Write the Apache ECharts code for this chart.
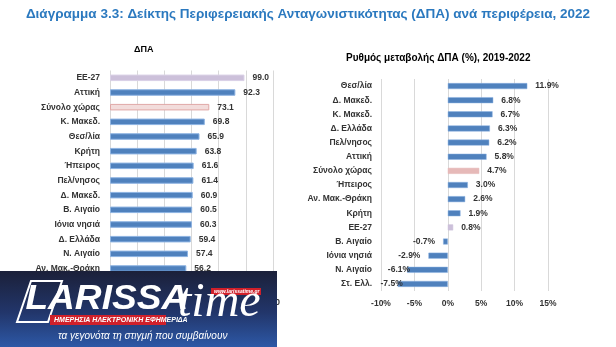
<!DOCTYPE html>
<html>
<head>
<meta charset="utf-8">
<script src="https://cdn.jsdelivr.net/npm/echarts@6/dist/echarts.min.js"></script>
<style>
html,body{margin:0;padding:0;background:#fff;}
#chart{width:616px;height:347px;}
</style>
</head>
<body>
<div id="chart"></div>
<script>
// ---- Data ----
const leftCategories = ['EE-27','Αττική','Σύνολο χώρας','Κ. Μακεδ.','Θεσ/λία','Κρήτη','Ήπειρος','Πελ/νησος','Δ. Μακεδ.','Β. Αιγαίο','Ιόνια νησιά','Δ. Ελλάδα','Ν. Αιγαίο','Αν. Μακ.-Θράκη','Στ. Ελλ.'];
const leftValues = [99.0, 92.3, 73.1, 69.8, 65.9, 63.8, 61.6, 61.4, 60.9, 60.5, 60.3, 59.4, 57.4, 56.2, 55.0];
const leftTicks = [0, 20, 40, 60, 80, 100, 120];

const rightCategories = ['Θεσ/λία','Δ. Μακεδ.','Κ. Μακεδ.','Δ. Ελλάδα','Πελ/νησος','Αττική','Σύνολο χώρας','Ήπειρος','Αν. Μακ.-Θράκη','Κρήτη','EE-27','Β. Αιγαίο','Ιόνια νησιά','Ν. Αιγαίο','Στ. Ελλ.'];
const rightValues = [11.9, 6.8, 6.7, 6.3, 6.2, 5.8, 4.7, 3.0, 2.6, 1.9, 0.8, -0.7, -2.9, -6.1, -7.5];
const rightTicks = [-10, -5, 0, 5, 10, 15];

const titleText = 'Διάγραμμα 3.3: Δείκτης Περιφερειακής Ανταγωνιστικότητας (ΔΠΑ) ανά περιφέρεια, 2022';
const leftTitle = 'ΔΠΑ';
const rightTitle = 'Ρυθμός μεταβολής ΔΠΑ (%), 2019-2022';

// ---- Styles ----
const FONT = '"Liberation Sans", sans-serif';
const TXT = '#333333';
const BLUE = '#4f81bd';
const BLUE_BORDER = '#8db3e2';
const negLabelShift = {'Ν. Αιγαίο': 11, 'Στ. Ελλ.': 13};

function leftItem(cat, v) {
  let it = {value: v};
  if (cat === 'EE-27') it.itemStyle = {color: '#ccc0da', borderColor: '#d9d0e6', borderWidth: 1};
  else if (cat === 'Σύνολο χώρας') it.itemStyle = {color: '#f2dcdb', borderColor: '#e0a8a6', borderWidth: 1};
  return it;
}
function rightItem(cat, v) {
  let it = {value: v};
  if (cat === 'EE-27') it.itemStyle = {color: '#ccc0da', borderColor: '#ccc0da'};
  else if (cat === 'Σύνολο χώρας') it.itemStyle = {color: '#e6b9b8', borderColor: '#e6b9b8'};
  if (v < 0) {
    it.label = {position: 'left', distance: 8, offset: [negLabelShift[cat] || 0, 0]};
  }
  return it;
}

const chart = echarts.init(document.getElementById('chart'), null, {renderer: 'canvas'});
const labelStyle = {fontFamily: FONT, fontWeight: 'bold', fontSize: 8.5, color: TXT};
const Z = 100;

const option = {
  backgroundColor: '#ffffff',
  animation: false,
  title: [
    {text: titleText, left: 'center', top: 2,
     textStyle: {fontFamily: FONT, fontWeight: 'bold', fontSize: 13.5, color: '#2b79bf'}},
    {text: leftTitle, left: 129, top: 40,
     textStyle: {fontFamily: FONT, fontWeight: 'bold', fontSize: 9, color: '#000'}},
    {text: rightTitle, left: 341, top: 48,
     textStyle: {fontFamily: FONT, fontWeight: 'bold', fontSize: 10, color: '#000'}}
  ],
  grid: [
    {left: 110, width: 163, top: 70.5, height: 220},
    {left: 381, width: 167, top: 79, height: 212}
  ],
  xAxis: [
    {gridIndex: 0, type: 'value', min: leftTicks[0], max: leftTicks[leftTicks.length-1], interval: 20,
     axisLine: {show: false}, axisTick: {show: false},
     splitLine: {lineStyle: {color: '#d9d9d9', width: 1}},
     axisLabel: Object.assign({margin: 8}, labelStyle)},
    {gridIndex: 1, type: 'value', min: rightTicks[0], max: rightTicks[rightTicks.length-1], interval: 5,
     axisLine: {show: false}, axisTick: {show: false},
     splitLine: {lineStyle: {color: '#d9d9d9', width: 1}},
     axisLabel: Object.assign({margin: 8, formatter: '{value}%'}, labelStyle)}
  ],
  yAxis: [
    {gridIndex: 0, type: 'category', data: leftCategories, inverse: true,
     axisLine: {show: false}, axisTick: {show: false},
     axisLabel: Object.assign({margin: 10}, labelStyle)},
    {gridIndex: 1, type: 'category', data: rightCategories, inverse: true,
     axisLine: {show: false}, axisTick: {show: false},
     axisLabel: Object.assign({margin: 9}, labelStyle)}
  ],
  series: [
    {type: 'bar', xAxisIndex: 0, yAxisIndex: 0, barWidth: 6.5,
     data: leftCategories.map((c, i) => leftItem(c, leftValues[i])),
     itemStyle: {color: BLUE, borderColor: BLUE_BORDER, borderWidth: 1},
     label: Object.assign({show: true, position: 'right', distance: 8,
       formatter: p => p.value.toFixed(1)}, labelStyle)},
    {type: 'bar', xAxisIndex: 1, yAxisIndex: 1, barWidth: 6,
     data: rightCategories.map((c, i) => rightItem(c, rightValues[i])),
     itemStyle: {color: BLUE, borderColor: BLUE_BORDER, borderWidth: 0.5},
     label: Object.assign({show: true, position: 'right', distance: 8,
       formatter: p => p.value.toFixed(1) + '%'}, labelStyle)}
  ],
  graphic: [
    {type: 'rect', z: Z, shape: {x: 0, y: 271, width: 277, height: 76},
     style: {fill: new echarts.graphic.LinearGradient(0, 0, 0, 1, [
       {offset: 0, color: '#1b2039'}, {offset: 0.55, color: '#22366b'}, {offset: 1, color: '#2d58a6'}])}},
    {type: 'polygon', z: Z + 1, shape: {points: [[31, 281], [62, 281], [48, 322], [17, 322]]},
     style: {fill: 'none', stroke: '#ffffff', lineWidth: 2}},
    {type: 'text', z: Z + 2, x: 27, y: 282, scaleX: 1.06, originX: 27,
     style: {text: 'LARISSA', fill: '#ffffff', font: 'italic bold 35px "Liberation Sans"'}},
    {type: 'rect', z: Z + 1, shape: {x: 50, y: 315, width: 116, height: 10},
     style: {fill: '#d0202a'}},
    {type: 'text', z: Z + 2, x: 54, y: 316.5,
     style: {text: 'ΗΜΕΡΗΣΙΑ ΗΛΕΚΤΡΟΝΙΚΗ ΕΦΗΜΕΡΙΔΑ', fill: '#ffffff', font: 'italic bold 7px "Liberation Sans"'}},
    {type: 'text', z: Z + 2, x: 178, y: 279,
     style: {text: 'time', fill: '#ffffff', font: 'italic 48px "Liberation Serif"'}},
    {type: 'rect', z: Z + 1, shape: {x: 211, y: 288, width: 50, height: 7},
     style: {fill: '#d0202a'}},
    {type: 'text', z: Z + 3, x: 214, y: 289,
     style: {text: 'www.larissatime.gr', fill: '#ffffff', font: 'italic bold 5px "Liberation Sans"'}},
    {type: 'text', z: Z + 2, x: 58, y: 331,
     style: {text: 'τα γεγονότα τη στιγμή που συμβαίνουν', fill: '#ffffff', font: 'italic 10px "Liberation Sans"'}}
  ]
};
chart.setOption(option);
</script>
</body>
</html>
